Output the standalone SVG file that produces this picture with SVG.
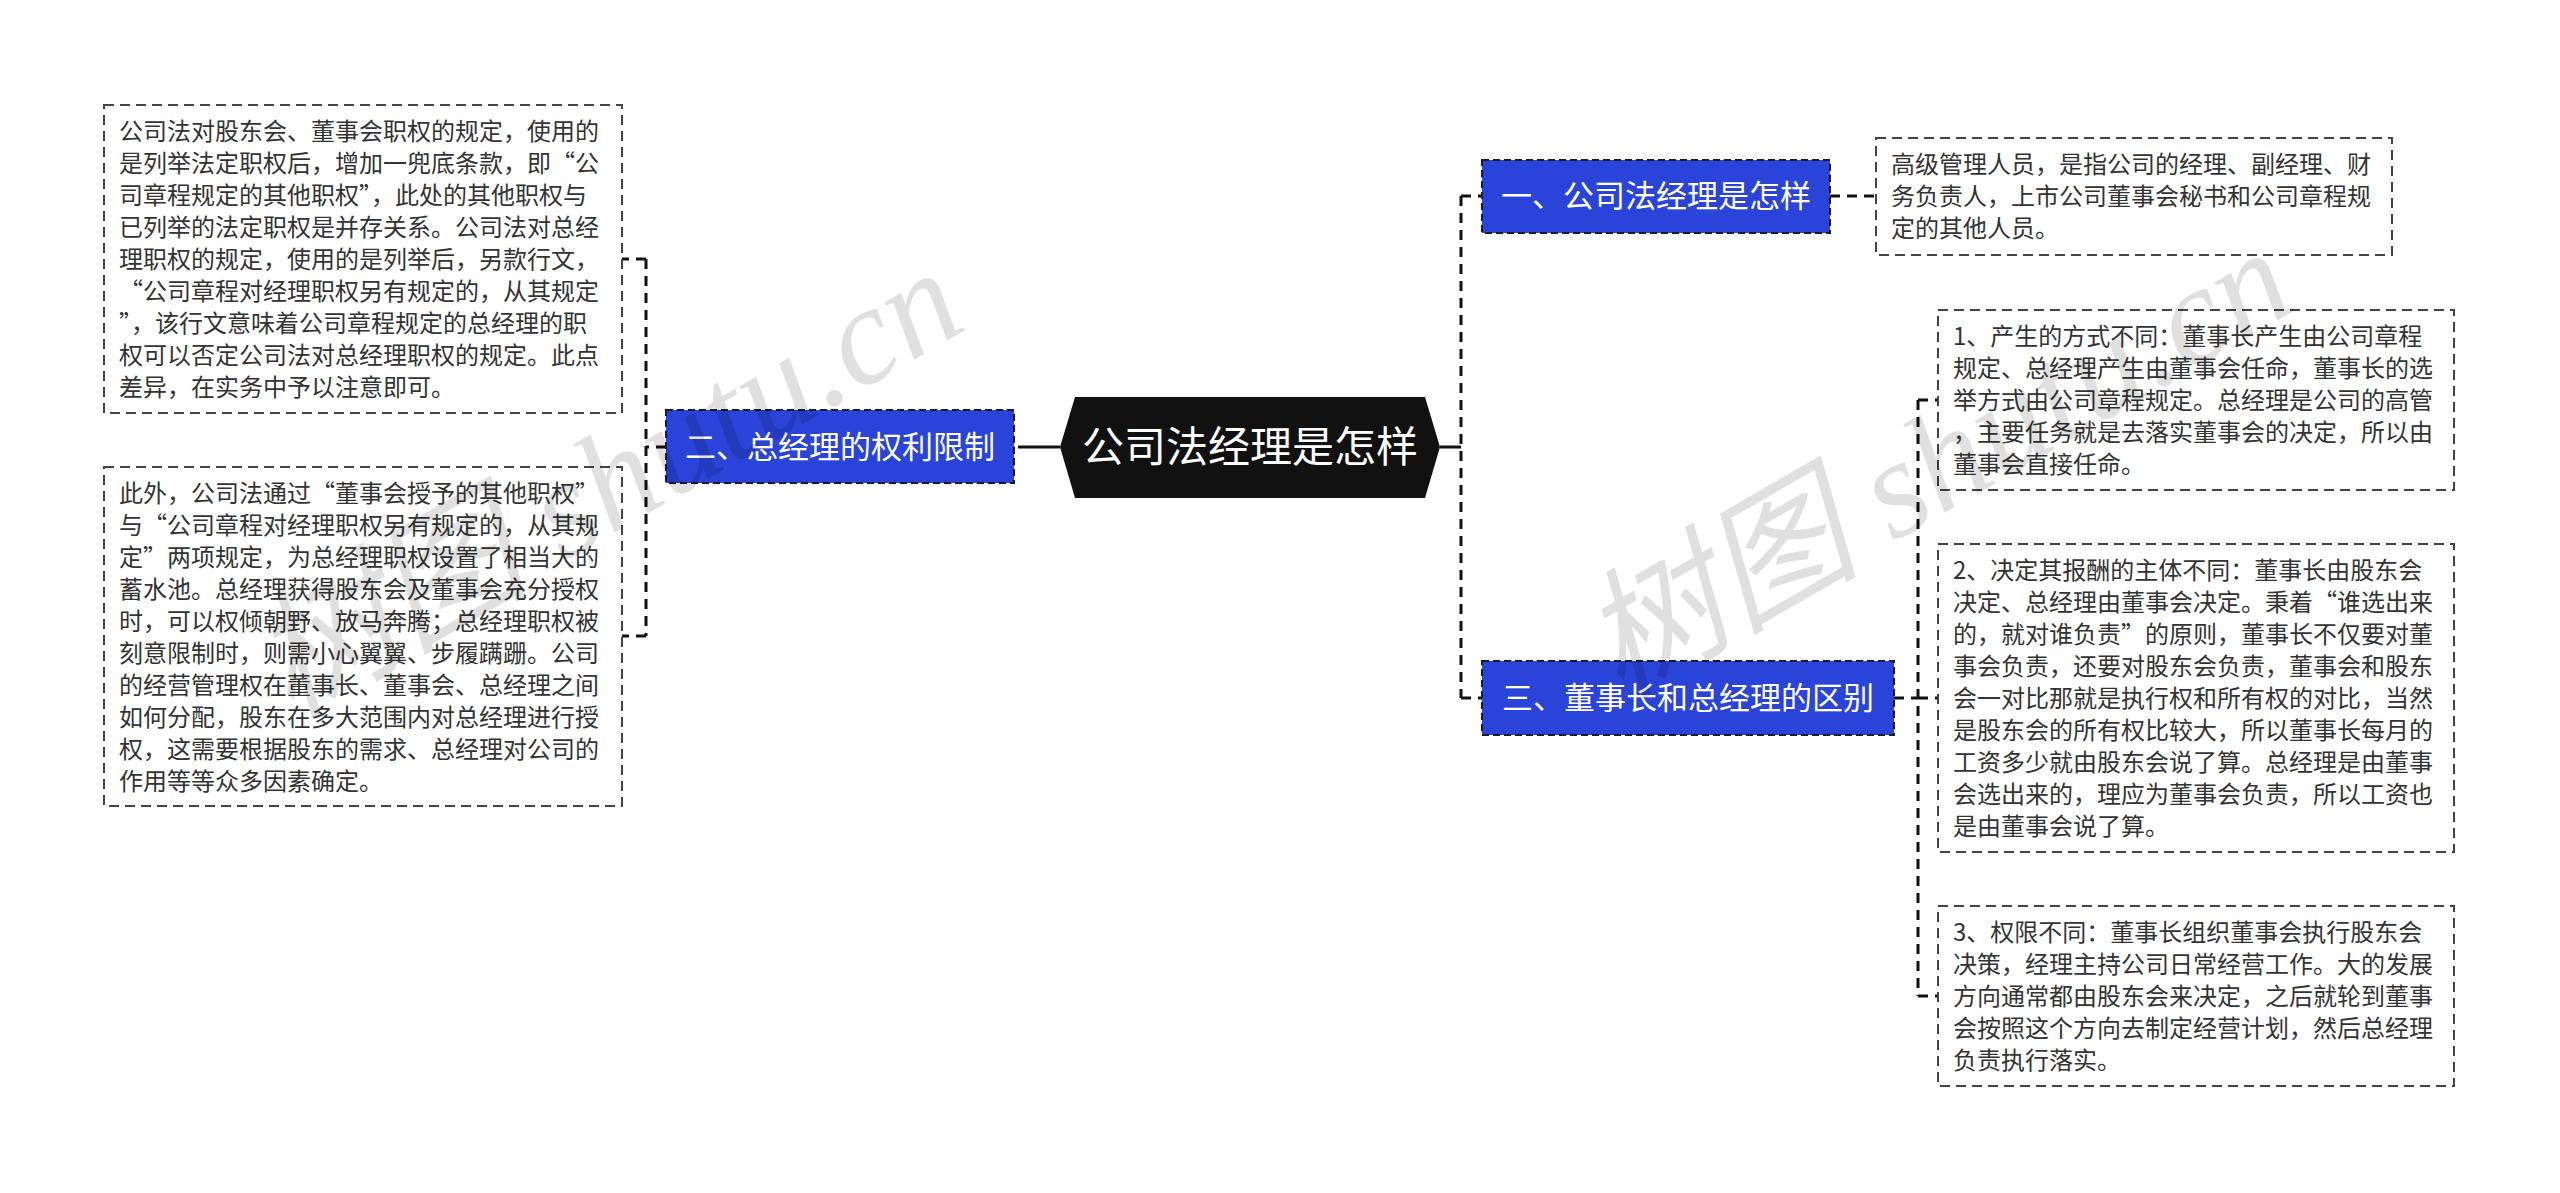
<svg xmlns="http://www.w3.org/2000/svg" width="2560" height="1193" viewBox="0 0 2560 1193">
<style>
.bg{fill:#ffffff}
.main{fill:#111111}
.mtxt{font-family:"Noto Sans CJK SC","Noto Sans",sans-serif;font-size:42px;fill:#ffffff}
.topic{fill:#2a43d8;stroke:#1a1a2e;stroke-width:2;stroke-dasharray:7 4}
.ttxt{font-family:"Noto Sans CJK SC","Noto Sans",sans-serif;font-size:31px;fill:#ffffff}
.desc{fill:none;stroke:#444444;stroke-width:2;stroke-dasharray:10 6}
.dtxt{font-family:"Noto Sans CJK SC","Noto Sans",sans-serif;font-size:24px;fill:#333333}
.ln{fill:none;stroke:#111111;stroke-width:3;stroke-dasharray:10 7}
.sl{fill:none;stroke:#111111;stroke-width:3}
.wm{font-family:"Liberation Serif","Noto Sans CJK SC",serif;font-size:140px;fill:#000000;fill-opacity:0.12;font-style:italic}
</style>
<rect class="bg" x="0" y="0" width="2560" height="1193"/>

<g id="connectors">
  <path class="sl" d="M1060 447 H1028"/>
  <path class="ln" d="M1028 447 H1014"/>
  <path class="ln" d="M666 447 H646"/>
  <path class="ln" d="M646 259 V636"/>
  <path class="ln" d="M646 259 H622"/>
  <path class="ln" d="M646 636 H622"/>
  <path class="sl" d="M1440 447 H1461"/>
  <path class="ln" d="M1461 196 V698"/>
  <path class="ln" d="M1461 196 H1482"/>
  <path class="ln" d="M1461 698 H1482"/>
  <path class="ln" d="M1830 196 H1876"/>
  <path class="ln" d="M1894 698 H1918"/>
  <path class="ln" d="M1918 400 V996"/>
  <path class="ln" d="M1918 400 H1938"/>
  <path class="ln" d="M1918 698 H1938"/>
  <path class="ln" d="M1918 996 H1938"/>
</g>

<g id="root">
  <polygon class="main" points="1060,447 1075,397 1425,397 1440,447 1425,498 1075,498"/>
  <text class="mtxt" x="1250" y="462" text-anchor="middle">公司法经理是怎样</text>
</g>

<g id="n2">
  <rect class="topic" x="666" y="410" width="348" height="73"/>
  <text class="ttxt" x="840" y="458" text-anchor="middle">二、总经理的权利限制</text>
</g>

<g id="n1">
  <rect class="topic" x="1482" y="160" width="348" height="73"/>
  <text class="ttxt" x="1656" y="207" text-anchor="middle">一、公司法经理是怎样</text>
</g>

<g id="n3">
  <rect class="topic" x="1482" y="661" width="412" height="74"/>
  <text class="ttxt" x="1688" y="709" text-anchor="middle">三、董事长和总经理的区别</text>
</g>

<g id="d2a">
  <rect class="desc" x="104" y="105" width="518" height="308"/>
  <text class="dtxt" x="119" y="140">
    <tspan x="119" y="140">公司法对股东会、董事会职权的规定，使用的</tspan>
    <tspan x="119" y="172">是列举法定职权后，增加一兜底条款，即“公</tspan>
    <tspan x="119" y="204">司章程规定的其他职权”，此处的其他职权与</tspan>
    <tspan x="119" y="236">已列举的法定职权是并存关系。公司法对总经</tspan>
    <tspan x="119" y="268">理职权的规定，使用的是列举后，另款行文，</tspan>
    <tspan x="119" y="300">“公司章程对经理职权另有规定的，从其规定</tspan>
    <tspan x="119" y="332">”，该行文意味着公司章程规定的总经理的职</tspan>
    <tspan x="119" y="364">权可以否定公司法对总经理职权的规定。此点</tspan>
    <tspan x="119" y="396">差异，在实务中予以注意即可。</tspan>
  </text>
</g>

<g id="d2b">
  <rect class="desc" x="104" y="467" width="518" height="339"/>
  <text class="dtxt" x="119" y="502">
    <tspan x="119" y="502">此外，公司法通过“董事会授予的其他职权”</tspan>
    <tspan x="119" y="534">与“公司章程对经理职权另有规定的，从其规</tspan>
    <tspan x="119" y="566">定”两项规定，为总经理职权设置了相当大的</tspan>
    <tspan x="119" y="598">蓄水池。总经理获得股东会及董事会充分授权</tspan>
    <tspan x="119" y="630">时，可以权倾朝野、放马奔腾；总经理职权被</tspan>
    <tspan x="119" y="662">刻意限制时，则需小心翼翼、步履蹒跚。公司</tspan>
    <tspan x="119" y="694">的经营管理权在董事长、董事会、总经理之间</tspan>
    <tspan x="119" y="726">如何分配，股东在多大范围内对总经理进行授</tspan>
    <tspan x="119" y="758">权，这需要根据股东的需求、总经理对公司的</tspan>
    <tspan x="119" y="790">作用等等众多因素确定。</tspan>
  </text>
</g>

<g id="d1">
  <rect class="desc" x="1876" y="138" width="516" height="117"/>
  <text class="dtxt" x="1891" y="173">
    <tspan x="1891" y="173">高级管理人员，是指公司的经理、副经理、财</tspan>
    <tspan x="1891" y="205">务负责人，上市公司董事会秘书和公司章程规</tspan>
    <tspan x="1891" y="237">定的其他人员。</tspan>
  </text>
</g>

<g id="d3a">
  <rect class="desc" x="1938" y="310" width="516" height="180"/>
  <text class="dtxt" x="1953" y="345">
    <tspan x="1953" y="345">1、产生的方式不同：董事长产生由公司章程</tspan>
    <tspan x="1953" y="377">规定、总经理产生由董事会任命，董事长的选</tspan>
    <tspan x="1953" y="409">举方式由公司章程规定。总经理是公司的高管</tspan>
    <tspan x="1953" y="441">，主要任务就是去落实董事会的决定，所以由</tspan>
    <tspan x="1953" y="473">董事会直接任命。</tspan>
  </text>
</g>

<g id="d3b">
  <rect class="desc" x="1938" y="544" width="516" height="308"/>
  <text class="dtxt" x="1953" y="579">
    <tspan x="1953" y="579">2、决定其报酬的主体不同：董事长由股东会</tspan>
    <tspan x="1953" y="611">决定、总经理由董事会决定。秉着“谁选出来</tspan>
    <tspan x="1953" y="643">的，就对谁负责”的原则，董事长不仅要对董</tspan>
    <tspan x="1953" y="675">事会负责，还要对股东会负责，董事会和股东</tspan>
    <tspan x="1953" y="707">会一对比那就是执行权和所有权的对比，当然</tspan>
    <tspan x="1953" y="739">是股东会的所有权比较大，所以董事长每月的</tspan>
    <tspan x="1953" y="771">工资多少就由股东会说了算。总经理是由董事</tspan>
    <tspan x="1953" y="803">会选出来的，理应为董事会负责，所以工资也</tspan>
    <tspan x="1953" y="835">是由董事会说了算。</tspan>
  </text>
</g>

<g id="d3c">
  <rect class="desc" x="1938" y="906" width="516" height="180"/>
  <text class="dtxt" x="1953" y="941">
    <tspan x="1953" y="941">3、权限不同：董事长组织董事会执行股东会</tspan>
    <tspan x="1953" y="973">决策，经理主持公司日常经营工作。大的发展</tspan>
    <tspan x="1953" y="1005">方向通常都由股东会来决定，之后就轮到董事</tspan>
    <tspan x="1953" y="1037">会按照这个方向去制定经营计划，然后总经理</tspan>
    <tspan x="1953" y="1069">负责执行落实。</tspan>
  </text>
</g>

<g id="watermark">
  <text class="wm" x="0" y="0" transform="translate(290,720) rotate(-30)">树图 shutu.cn</text>
  <text class="wm" x="0" y="0" transform="translate(1620,700) rotate(-30)">树图 shutu.cn</text>
</g>
</svg>
